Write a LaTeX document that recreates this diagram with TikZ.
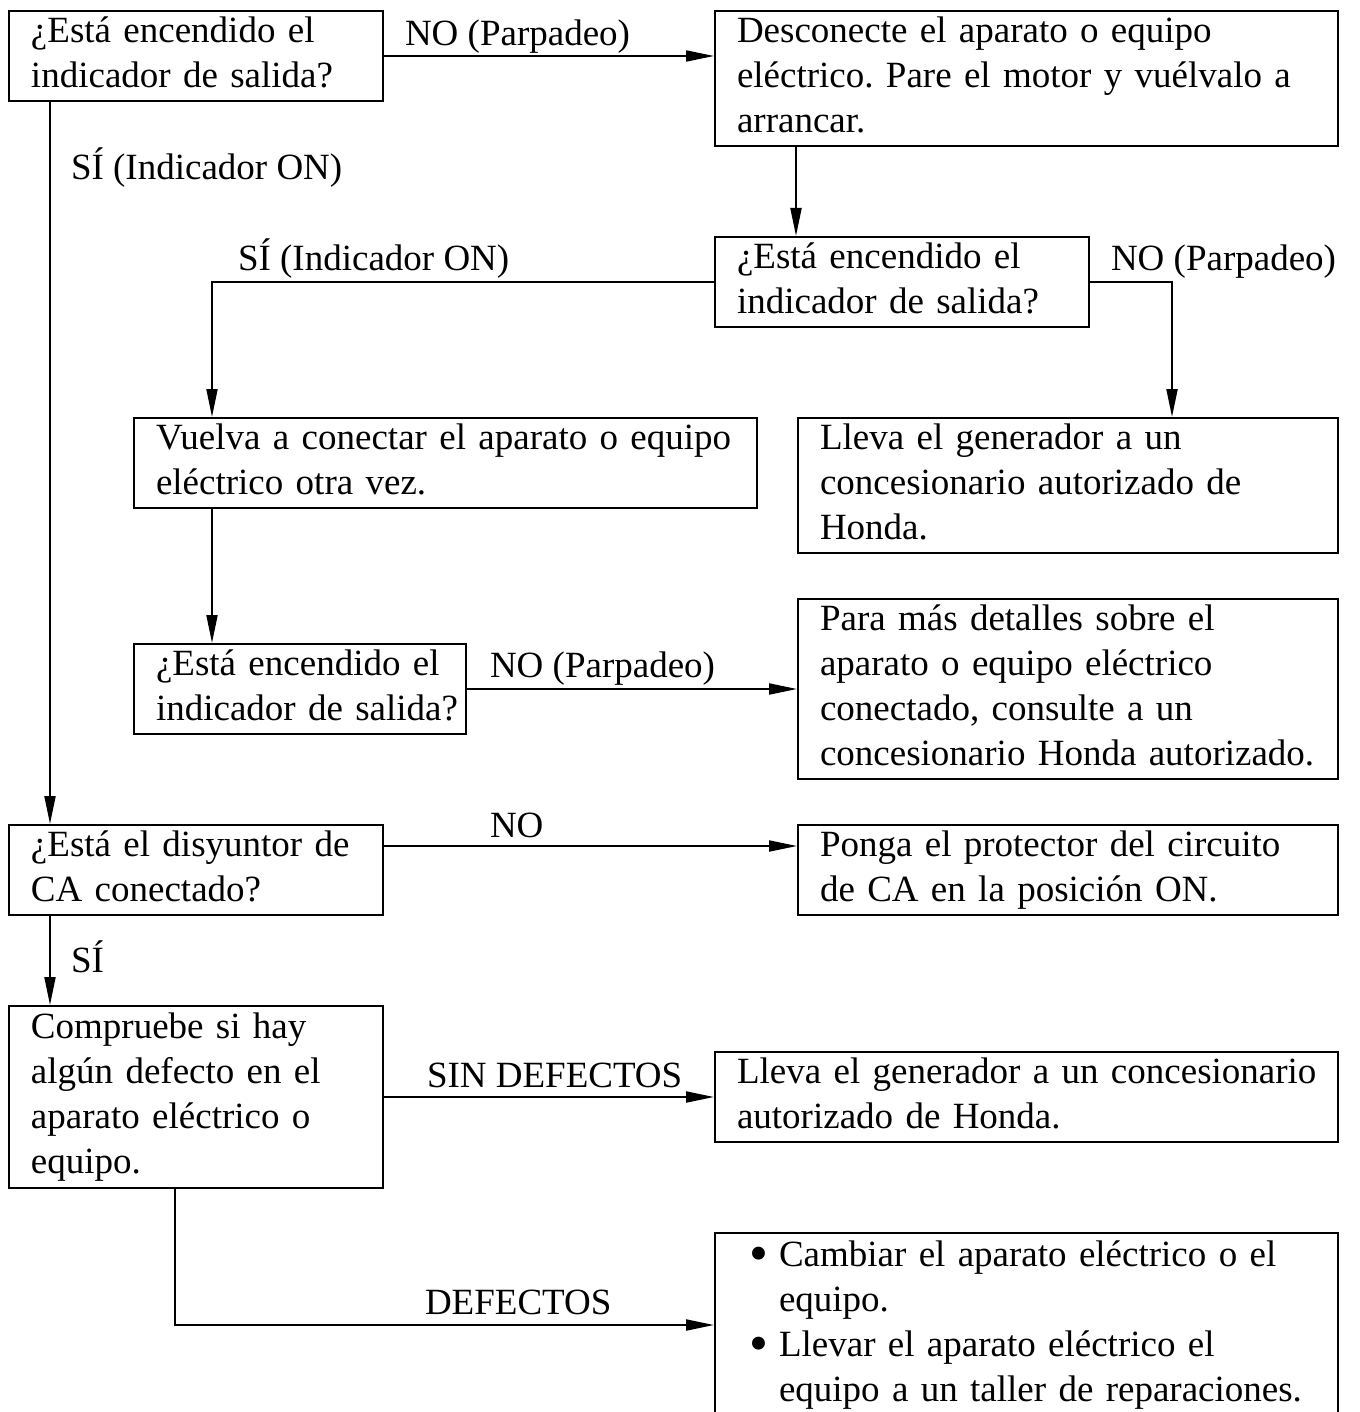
\documentclass[tikz,border=0pt]{standalone}
\usepackage{fontspec}
\setmainfont{Liberation Serif}
\usetikzlibrary{arrows.meta}
\frenchspacing
\newcommand{\boxtext}[1]{\begin{tabular}{@{}l@{}}#1\end{tabular}}
\newcommand{\bul}{\hspace*{6pt}\makebox[15pt][l]{\raisebox{-2.5pt}{\fontsize{27}{27}\selectfont\textbullet}}}
\newcommand{\bulpad}{\hspace*{21pt}}

\begin{document}
\begin{tikzpicture}[
    x=0.5pt, y=-0.5pt,
    box/.style={
      draw=black, line width=1pt, anchor=north west,
      align=left, inner xsep=11pt, inner ysep=0pt,
      font=\fontsize{18.5}{22.5}\selectfont
    },
    flow/.style={-{Triangle[length=14pt,width=5.5pt]}, line width=1pt},
    lbl/.style={anchor=base west, inner sep=0pt,
      font=\fontsize{18.5}{22.5}\selectfont}
  ]
  \useasboundingbox (0,0) rectangle (1359,1412);

  % left column
  \node[box, text width=165pt, minimum height=44.5pt] (ask1) at (8,10)
    {\boxtext{¿Está encendido el\\indicador de salida?}};
  \node[box, text width=165pt, minimum height=45pt] (breaker) at (8,824)
    {\boxtext{¿Está el disyuntor de\\CA conectado?}};
  \node[box, text width=165pt, minimum height=91pt] (check) at (8,1005)
    {\boxtext{Compruebe si hay\\algún defecto en el\\aparato eléctrico o\\equipo.}};

  % middle
  \node[box, text width=289.5pt, minimum height=45pt] (reconnect) at (133,417)
    {\boxtext{Vuelva a conectar el aparato o equipo\\eléctrico otra vez.}};
  \node[box, text width=144pt, minimum height=45pt] (ask3) at (133,643)
    {\boxtext{¿Está encendido el\\indicador de salida?}};

  % right column
  \node[box, text width=289.5pt, minimum height=67.5pt] (unplug) at (714,10)
    {\boxtext{Desconecte el aparato o equipo\\eléctrico. Pare el motor y vuélvalo a\\arrancar.}};
  \node[box, text width=165pt, minimum height=44.5pt] (ask2) at (714,236)
    {\boxtext{¿Está encendido el\\indicador de salida?}};
  \node[box, text width=248pt, minimum height=67.5pt] (dealerA) at (797,417)
    {\boxtext{Lleva el generador a un\\concesionario autorizado de\\Honda.}};
  \node[box, text width=248pt, minimum height=90pt] (details) at (797,598)
    {\boxtext{Para más detalles sobre el\\aparato o equipo eléctrico\\conectado, consulte a un\\concesionario Honda autorizado.}};
  \node[box, text width=248pt, minimum height=45pt] (protector) at (797,824)
    {\boxtext{Ponga el protector del circuito\\de CA en la posición ON.}};
  \node[box, text width=289.5pt, minimum height=45pt] (dealerB) at (714,1051)
    {\boxtext{Lleva el generador a un concesionario\\autorizado de Honda.}};
  \node[box, text width=289.5pt, minimum height=92pt] (repair) at (714,1232)
    {\boxtext{\bul Cambiar el aparato eléctrico o el\\\bulpad equipo.\\\bul Llevar el aparato eléctrico el\\\bulpad equipo a un taller de reparaciones.}};

  % connectors
  \draw[flow] (ask1.east) --
    node[lbl, at start, xshift=10pt, yshift=5pt] {NO (Parpadeo)}
    (ask1.east -| unplug.west);
  \draw[flow] ([xshift=21pt]ask1.south west) --
    node[lbl, at start, xshift=10pt, yshift=-39pt] {SÍ (Indicador ON)}
    ([xshift=21pt]breaker.north west);
  \draw[flow] ([xshift=41pt]unplug.south west) -- ([xshift=41pt]ask2.north west);
  \draw[flow] (ask2.west) -|
    node[lbl, pos=0.5, xshift=12.5pt, yshift=5.5pt] {SÍ (Indicador ON)}
    ([xshift=39.5pt]reconnect.north west);
  \draw[flow] (ask2.east) -|
    node[lbl, at start, xshift=10pt, yshift=5.5pt] {NO (Parpadeo)}
    ([xshift=187.5pt]dealerA.north west);
  \draw[flow] ([xshift=39.5pt]reconnect.south west) -- ([xshift=39.5pt]ask3.north west);
  \draw[flow] (ask3.east) --
    node[lbl, at start, xshift=11pt, yshift=6pt] {NO (Parpadeo)}
    (ask3.east -| details.west);
  \draw[flow] ([yshift=12pt]breaker.east) --
    node[lbl, at start, xshift=52.5pt, yshift=4.5pt] {NO}
    ([yshift=12pt]breaker.east -| protector.west);
  \draw[flow] ([xshift=21pt]breaker.south west) --
    node[lbl, at start, xshift=10pt, yshift=-28pt] {SÍ}
    ([xshift=21pt]check.north west);
  \draw[flow] (check.east) --
    node[lbl, at start, xshift=21pt, yshift=5pt] {SIN DEFECTOS}
    (check.east -| dealerB.west);
  \draw[flow] ([xshift=83.5pt]check.south west) |-
    node[lbl, pos=0.5, xshift=124.5pt, yshift=5.5pt] {DEFECTOS}
    (repair.west);
\end{tikzpicture}
\end{document}
